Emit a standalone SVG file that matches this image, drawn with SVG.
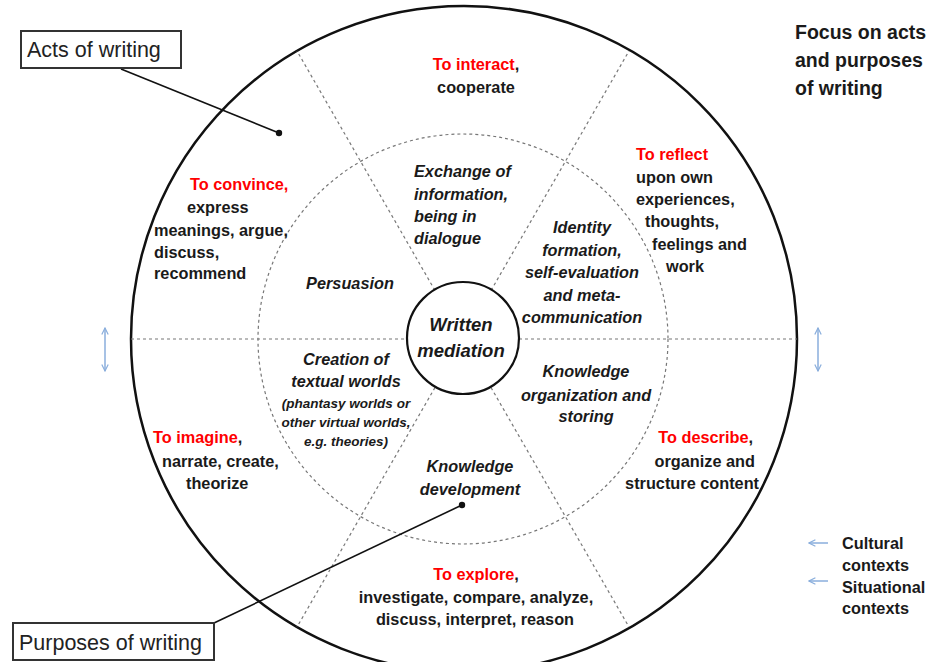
<svg xmlns="http://www.w3.org/2000/svg" width="936" height="662" viewBox="0 0 936 662">
<style>
.t{font-family:"Liberation Sans",Arial,sans-serif;font-weight:bold;font-size:16.3px;fill:#1a1a1a}
.r{fill:#ff0000}
.i{font-family:"Liberation Sans",Arial,sans-serif;font-weight:bold;font-style:italic;font-size:16.3px;fill:#1a1a1a}
.s{font-size:13.5px}
.m{text-anchor:middle}
.e{text-anchor:end}
.lbl{font-family:"Liberation Sans",Arial,sans-serif;font-size:21.5px;fill:#222}
.div{stroke:#777;stroke-width:1.2;stroke-dasharray:3 3;fill:none}
.blue{stroke:#8aaedc;stroke-width:1.5;fill:none}
.call{stroke:#111;stroke-width:1.6;fill:none}
</style>
<defs>
<marker id="ah" viewBox="0 0 10 10" refX="9" refY="5" markerWidth="8" markerHeight="8" orient="auto-start-reverse" markerUnits="userSpaceOnUse">
<path d="M1,1 L9,5 L1,9" fill="none" stroke="#8aaedc" stroke-width="1.5"/>
</marker>
</defs>
<rect width="936" height="662" fill="#fff"/>

<g id="outer-circle"><circle cx="464" cy="339" r="333" fill="none" stroke="#111" stroke-width="2.5"/></g>
<g id="inner-circle"><circle cx="463" cy="339" r="205" class="div"/></g>

<g id="connectors">
<line class="div" x1="131" y1="339" x2="407" y2="339"/>
<line class="div" x1="519" y1="339" x2="797" y2="339"/>
<line class="div" x1="435" y1="290.5" x2="297" y2="51"/>
<line class="div" x1="491" y1="290.5" x2="629" y2="51"/>
<line class="div" x1="435" y1="387.5" x2="297" y2="627"/>
<line class="div" x1="491" y1="387.5" x2="629" y2="627"/>
<line class="call" x1="121" y1="69" x2="279" y2="133"/>
<circle cx="279" cy="133" r="3.2" fill="#111"/>
<line class="call" x1="214" y1="623" x2="462" y2="505"/>
<circle cx="462" cy="505" r="3.2" fill="#111"/>
<line class="blue" x1="105" y1="328" x2="105" y2="371" marker-start="url(#ah)" marker-end="url(#ah)"/>
<line class="blue" x1="818" y1="328" x2="818" y2="371" marker-start="url(#ah)" marker-end="url(#ah)"/>
<line class="blue" x1="809" y1="543" x2="828" y2="543" marker-start="url(#ah)"/>
<line class="blue" x1="809" y1="581" x2="828" y2="581" marker-start="url(#ah)"/>
</g>

<g id="center">
<circle cx="463" cy="338" r="56" fill="#fff" stroke="#111" stroke-width="2.2"/>
<text class="i m" x="461" y="331" style="font-size:18.5px">Written</text>
<text class="i m" x="461" y="357" style="font-size:18.5px">mediation</text>
</g>

<g id="interact">
<text class="t m" x="476" y="70"><tspan class="r">To interact</tspan>,</text>
<text class="t m" x="476" y="93">cooperate</text>
</g>

<g id="convince">
<text class="t r" x="190" y="190">To convince,</text>
<text class="t" x="187" y="213">express</text>
<text class="t" x="154" y="236">meanings, argue,</text>
<text class="t" x="154" y="258">discuss,</text>
<text class="t" x="154" y="279">recommend</text>
</g>

<g id="reflect">
<text class="t r" x="636" y="160">To reflect</text>
<text class="t" x="636" y="183">upon own</text>
<text class="t" x="636" y="205">experiences,</text>
<text class="t" x="645" y="227">thoughts,</text>
<text class="t" x="652" y="250">feelings and</text>
<text class="t" x="666" y="272">work</text>
</g>

<g id="imagine">
<text class="t" x="153" y="443"><tspan class="r">To imagine</tspan>,</text>
<text class="t" x="162" y="467">narrate, create,</text>
<text class="t" x="186" y="489">theorize</text>
</g>

<g id="describe">
<text class="t e" x="753" y="443"><tspan class="r">To describe</tspan>,</text>
<text class="t e" x="755" y="467">organize and</text>
<text class="t e" x="759" y="489">structure content</text>
</g>

<g id="explore">
<text class="t m" x="476" y="580"><tspan class="r">To explore</tspan>,</text>
<text class="t m" x="476" y="603">investigate, compare, analyze,</text>
<text class="t m" x="475" y="625">discuss, interpret, reason</text>
</g>

<g id="exchange">
<text class="i" x="414" y="177">Exchange of</text>
<text class="i" x="414" y="200">information,</text>
<text class="i" x="414" y="222">being in</text>
<text class="i" x="414" y="244">dialogue</text>
</g>

<g id="persuasion"><text class="i m" x="350" y="289">Persuasion</text></g>

<g id="identity">
<text class="i m" x="582" y="233">Identity</text>
<text class="i m" x="582" y="256">formation,</text>
<text class="i m" x="582" y="278">self-evaluation</text>
<text class="i m" x="582" y="301">and meta-</text>
<text class="i m" x="582" y="323">communication</text>
</g>

<g id="creation">
<text class="i m" x="346" y="365">Creation of</text>
<text class="i m" x="346" y="387">textual worlds</text>
<text class="i s m" x="346" y="408">(phantasy worlds or</text>
<text class="i s m" x="346" y="427">other virtual worlds,</text>
<text class="i s m" x="346" y="446">e.g. theories)</text>
</g>

<g id="knowledge-org">
<text class="i m" x="586" y="377">Knowledge</text>
<text class="i m" x="586" y="401">organization and</text>
<text class="i m" x="586" y="422">storing</text>
</g>

<g id="knowledge-dev">
<text class="i m" x="470" y="472">Knowledge</text>
<text class="i m" x="470" y="495">development</text>
</g>

<g id="acts-box">
<rect x="21" y="31" width="160" height="37" fill="#fff" stroke="#333" stroke-width="2"/>
<text class="lbl" x="27" y="57">Acts of writing</text>
</g>

<g id="purposes-box">
<rect x="13" y="623" width="201" height="37" fill="#fff" stroke="#333" stroke-width="2"/>
<text class="lbl" x="19" y="650">Purposes of writing</text>
</g>

<g id="focus">
<text class="t" x="795" y="39" style="font-size:19.5px">Focus on acts</text>
<text class="t" x="795" y="67" style="font-size:19.5px">and purposes</text>
<text class="t" x="795" y="95" style="font-size:19.5px">of writing</text>
</g>

<g id="contexts">
<text class="t" x="842" y="549">Cultural</text>
<text class="t" x="842" y="571">contexts</text>
<text class="t" x="842" y="593">Situational</text>
<text class="t" x="842" y="614">contexts</text>
</g>
</svg>
